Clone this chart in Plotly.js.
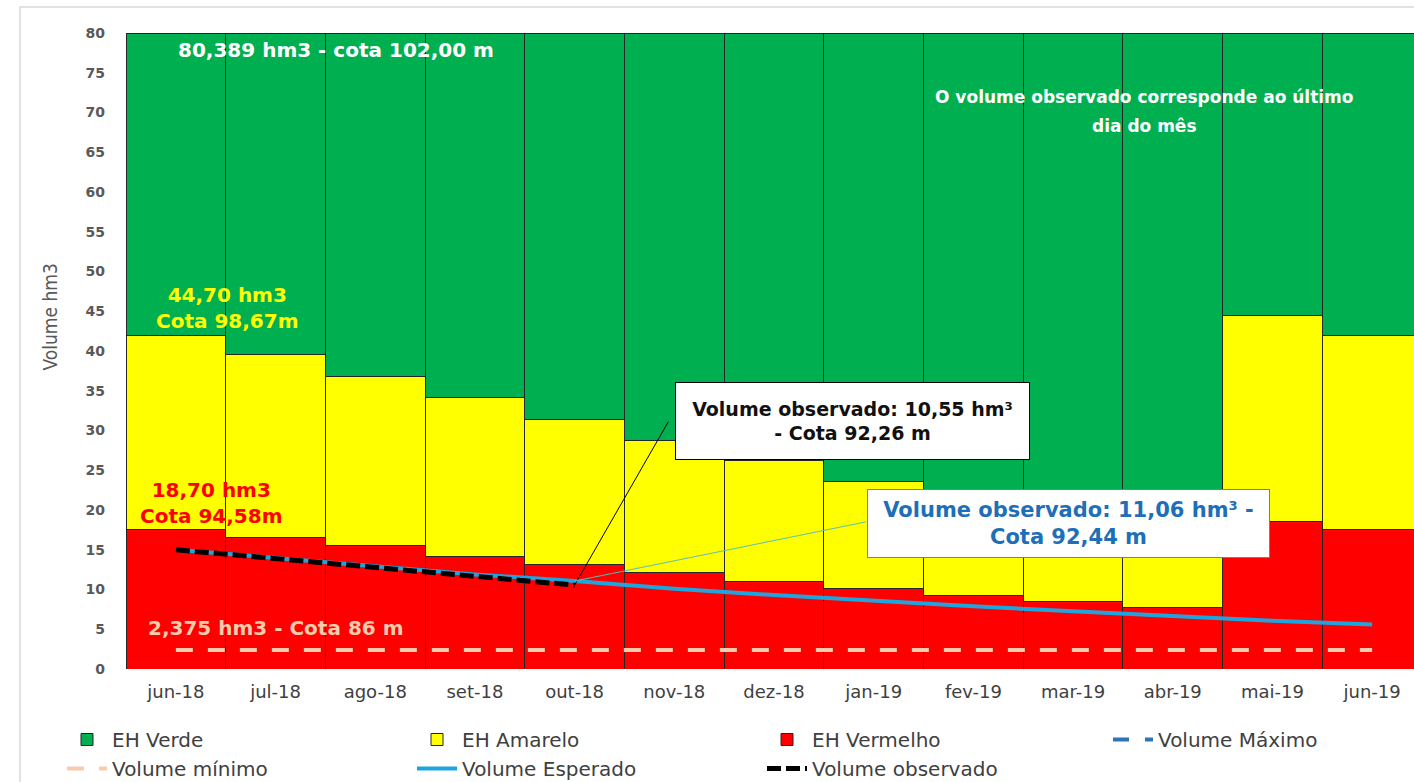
<!DOCTYPE html>
<html>
<head>
<meta charset="utf-8">
<script src="https://cdn.plot.ly/plotly-3.0.1.min.js"></script>
<style>html,body{margin:0;padding:0;background:#fff;}#chart{width:1414px;height:782px;}</style>
</head>
<body>
<div id="chart"></div>
<script>
// ---- data ----
const meses = ['jun-18','jul-18','ago-18','set-18','out-18','nov-18','dez-18','jan-19','fev-19','mar-19','abr-19','mai-19','jun-19'];
const limVermelho = [17.5,16.5,15.5,14.2,13.2,12.1,11.0,10.1,9.2,8.5,7.7,18.6,17.5];
const limAmarelo  = [42.0,39.5,36.8,34.2,31.4,28.8,26.2,23.6,21.0,18.4,15.8,44.5,42.0];
const volTopo = 80;
const volMaximo = 80.389;
const volMinimo = 2.375;
const volEsperado  = [15.0,13.95,12.9,11.9,11.06,10.1,9.3,8.56,7.88,7.25,6.62,6.08,5.6];
const volObservado = [15.0,13.85,12.75,11.65,10.55];
const mesesObs = meses.slice(0, volObservado.length);

// ---- derived stacks ----
const faixaVermelha = limVermelho.slice();
const faixaAmarela = limAmarelo.map((v,i)=> v - limVermelho[i]);
const faixaVerde = limAmarelo.map(v => volTopo - v);

const outline = {color:'#262626', width:1};
const traces = [
  {type:'bar', name:'EH Vermelho', x:meses, y:faixaVermelha, marker:{color:'#FF0000', line:outline}, legend:'legend3', legendrank:1, hoverinfo:'skip'},
  {type:'bar', name:'EH Amarelo', x:meses, y:faixaAmarela, marker:{color:'#FFFF00', line:outline}, legend:'legend2', legendrank:1, hoverinfo:'skip'},
  {type:'bar', name:'EH Verde', x:meses, y:faixaVerde, marker:{color:'#00B050', line:outline}, legend:'legend', legendrank:1, hoverinfo:'skip'},
  {type:'scatter', mode:'lines', name:'Volume Máximo', x:meses, y:meses.map(()=>volMaximo), line:{color:'#2E75B6', width:4, dash:'16px,16px'}, cliponaxis:false, legend:'legend4', legendrank:2},
  {type:'scatter', mode:'lines', name:'Volume mínimo', x:meses, y:meses.map(()=>volMinimo), line:{color:'#F8CBAD', width:4, dash:'17px,15px'}, legend:'legend', legendrank:2},
  {type:'scatter', mode:'lines', name:'Volume Esperado', x:meses, y:volEsperado, line:{color:'#1EA5DE', width:4}, legend:'legend2', legendrank:2},
  {type:'scatter', mode:'lines', name:'Volume observado', x:mesesObs, y:volObservado, line:{color:'#000000', width:5, dash:'14px,5px'}, legend:'legend3', legendrank:2}
];

const boldFont = 'DejaVu Sans, Verdana, sans-serif';
const lastObs = volObservado.length - 1;
const idxEsp = 4;

const annotations = [
  {x:1.61, y:77.8, xref:'x', yref:'y', text:'80,389 hm3 - cota 102,00 m', showarrow:false, font:{family:boldFont, size:20, color:'#FFFFFF', weight:'bold'}},
  {x:9.72, y:72.0, xref:'x', yref:'y', text:'O volume observado corresponde ao último', showarrow:false, font:{family:boldFont, size:17, color:'#FFFFFF', weight:'bold'}},
  {x:9.72, y:68.3, xref:'x', yref:'y', text:'dia do mês', showarrow:false, font:{family:boldFont, size:17, color:'#FFFFFF', weight:'bold'}},
  {x:0.52, y:45.4, xref:'x', yref:'y', text:'44,70 hm3<br>Cota 98,67m', showarrow:false, font:{family:boldFont, size:20, color:'#FFFF00', weight:'bold'}},
  {x:0.36, y:20.9, xref:'x', yref:'y', text:'18,70 hm3<br>Cota 94,58m', showarrow:false, font:{family:boldFont, size:20, color:'#FF0000', weight:'bold'}},
  {x:1.0, y:5.1, xref:'x', yref:'y', text:'2,375 hm3 - Cota 86 m', showarrow:false, font:{family:boldFont, size:20, color:'#F8CBAD', weight:'bold'}},
  {x:6.79, y:31.2, xref:'x', yref:'y', text:'Volume observado: 10,55 hm³<br>- Cota 92,26 m', showarrow:false,
   font:{family:boldFont, size:19, color:'#111111', weight:'bold'}, bgcolor:'#FFFFFF', bordercolor:'#000000', borderwidth:1, borderpad:0, width:353, height:76},
  {x:8.95, y:18.3, xref:'x', yref:'y', text:'Volume observado: 11,06 hm³ -<br>Cota 92,44 m', showarrow:false,
   font:{family:boldFont, size:21, color:'#1F6FB8', weight:'bold'}, bgcolor:'#FFFFFF', bordercolor:'#7F7F7F', borderwidth:1, borderpad:0, width:401, height:67},
  {x:-0.0589, y:0.553, xref:'paper', yref:'paper', xanchor:'center', yanchor:'middle', text:'Volume hm3', textangle:-90, showarrow:false,
   font:{family:'DejaVu Sans Condensed, DejaVu Sans, sans-serif', size:19, color:'#595959'}}
];

const shapes = [
  {type:'line', xref:'x', yref:'y', x0:lastObs, y0:volObservado[lastObs], x1:4.94, y1:31.1, line:{color:'#000000', width:1}},
  {type:'line', xref:'x', yref:'y', x0:idxEsp, y0:volEsperado[idxEsp], x1:6.92, y1:18.5, line:{color:'#5BBFB5', width:1}},
  {type:'rect', xref:'paper', yref:'paper', x0:-0.0823, x1:1.05, y0:-0.3, y1:1.041, line:{color:'#D9D9D9', width:1.5}, layer:'below'}
];

function legendAt(px) {
  return {orientation:'v', xref:'container', yref:'container', x:px/1414, xanchor:'left', y:(782-720)/782, yanchor:'top', traceorder:'normal',
          font:{family:'DejaVu Sans, sans-serif', size:20, color:'#404040'}, itemwidth:40, tracegroupgap:0,
          bgcolor:'rgba(0,0,0,0)'};
}

const layout = {
  width:1414, height:782,
  margin:{l:126, r:0, t:33, b:113, autoexpand:false},
  paper_bgcolor:'#FFFFFF', plot_bgcolor:'#FFFFFF',
  barmode:'stack', bargap:0,
  showlegend:true,
  xaxis:{type:'category', range:[-0.5, 12.42], showgrid:false, zeroline:false, showline:false, ticks:'',
         tickfont:{family:'DejaVu Sans, sans-serif', size:18, color:'#404040'}, ticklabelstandoff:10},
  yaxis:{range:[0,80], dtick:5, showgrid:false, zeroline:false, showline:false, ticks:'',
         tickfont:{family:boldFont, size:14, color:'#595959', weight:'bold'}, ticklabelstandoff:20},
  legend:legendAt(62),
  legend2:legendAt(412),
  legend3:legendAt(762),
  legend4:legendAt(1108),
  annotations:annotations,
  shapes:shapes
};

Plotly.newPlot('chart', traces, layout, {displayModeBar:false, staticPlot:true});
</script>
</body>
</html>
